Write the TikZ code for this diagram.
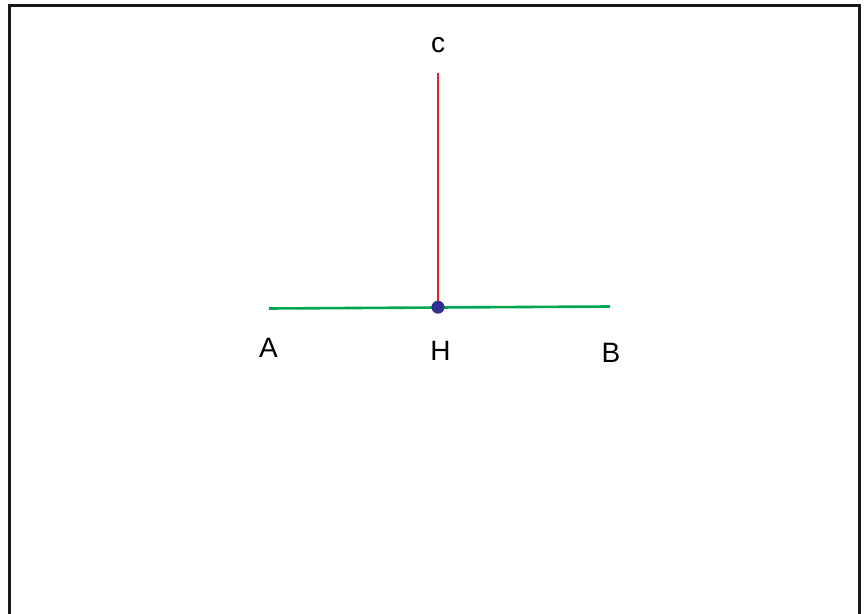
\documentclass[tikz,border=0pt]{standalone}
\usepackage{fontspec}
\setmainfont{Liberation Sans}
\usepackage{xcolor}
\usepackage{tikz}
\usetikzlibrary{calc,backgrounds}
\definecolor{segment}{HTML}{00A651}
\definecolor{altitude}{HTML}{ED1C24}
\definecolor{foot}{HTML}{2E3192}
\tikzset{
  frame/.style={draw=black!90, line width=3pt},
  baseline/.style={draw=segment, line width=2.6pt},
  heightline/.style={draw=altitude, line width=2.6pt},
  footdot/.style={circle, fill=foot, inner sep=0pt, minimum size=13pt},
  ptlabel/.style={font=\fontsize{28}{32}\selectfont, inner sep=0pt, anchor=center}
}

\begin{document}
\begin{tikzpicture}[x=1pt,y=1pt]
\path[use as bounding box] (0,0) rectangle (864,613);
\draw[frame] (9.5,-5) |- (859.5,607) -- (859.5,-5);

\coordinate (a) at (269,304.5);
\coordinate (b) at (610,306.5);
\coordinate (c) at (438,540);
\node[footdot] (h) at (438,305.8) {};

\node[ptlabel] (labelA) at (268.5,265) {A};
\node[ptlabel] (labelB) at (611,260) {B};
\node[ptlabel] (labelH) at (440.5,262) {H};
\node[ptlabel] (labelC) at (438,568) {c};

\begin{scope}[on background layer]
\fill[white] (0,0) rectangle (864,613);
\draw[baseline] (a) -- (b);
\draw[heightline] (c) -- (h.center);
\end{scope}

\end{tikzpicture}
\end{document}
